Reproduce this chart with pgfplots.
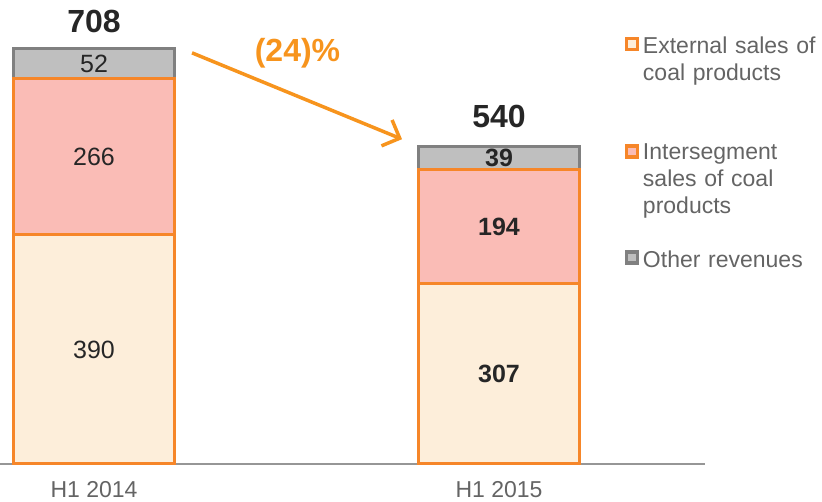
\documentclass[border=0pt]{standalone}
\usepackage{pgfplots}
\pgfplotsset{compat=1.18}
\usepackage{pgfplotstable}
\usepackage{fontspec}
\setmainfont{Liberation Sans}
\usetikzlibrary{arrows.meta}
\definecolor{barorange}{RGB}{246,134,41}
\definecolor{arroworange}{RGB}{247,148,29}
\definecolor{extfill}{RGB}{253,238,218}
\definecolor{interfill}{RGB}{250,188,182}
\definecolor{otherfill}{RGB}{191,191,191}
\definecolor{otherdraw}{RGB}{128,128,128}
\definecolor{darktext}{RGB}{38,38,38}
\definecolor{labelgray}{RGB}{100,100,100}
\definecolor{axisgray}{RGB}{150,150,150}
\pgfplotstableread{
x ext inter other
0 390 266 52
1 307 194 39
}\datatable
\tikzset{seglab/.style={font=\fontsize{25}{28}\selectfont, text=darktext},
  seglabb/.style={font=\fontsize{25}{28}\selectfont\bfseries, text=darktext},
  totlab/.style={font=\fontsize{32}{36}\selectfont\bfseries, text=darktext}}
\begin{document}
\begin{tikzpicture}
\useasboundingbox (0pt,-38pt) rectangle (822pt,464pt);
\begin{axis}[
  scale only axis, width=705pt, height=464pt,
  xmin=-0.2321, xmax=1.5086, ymin=0, ymax=790,
  enlargelimits=false,
  ybar stacked, bar width=161pt,
  axis x line*=bottom, axis y line=none,
  x axis line style={draw=axisgray, line width=1.5pt, -},
  xtick={0,1}, xticklabels={H1 2014, H1 2015},
  major tick length=0pt, ytick=\empty,
  xticklabel style={font=\fontsize{23}{26}\selectfont, text=labelgray, anchor=north, inner sep=0pt, yshift=-17pt},
  clip=false,
  legend image code/.code={\draw[#1,/tikz/.cd, line width=3.5pt] (1.75pt,-1.75pt) rectangle (12.75pt,-12.75pt);},
  legend style={at={(axis description cs:0.8865,0.9203)}, anchor=north west, draw=none, fill=none,
    inner sep=0pt, outer sep=0pt, /tikz/row sep=89pt, /tikz/column sep=3.5pt,
    cells={anchor=north west}, nodes={inner sep=0pt, text=labelgray, text width=180pt, align=left},
    font=\fontsize{23}{27}\selectfont},
]
\addplot[fill=extfill, draw=barorange, line width=3pt] table[x=x,y=ext]{\datatable};
\addlegendentry{External sales of\\coal products}
\addplot[fill=interfill, draw=barorange, line width=3pt] table[x=x,y=inter]{\datatable};
\addlegendentry{Intersegment\\sales of coal\\products}
\addplot[fill=otherfill, draw=otherdraw, line width=3pt] table[x=x,y=other]{\datatable};
\addlegendentry{Other revenues}

\coordinate (a1) at (axis cs:0,195);
\coordinate (a2) at (axis cs:0,523);
\coordinate (a3) at (axis cs:0,682);
\coordinate (b1) at (axis cs:1,153.5);
\coordinate (b2) at (axis cs:1,404);
\coordinate (b3) at (axis cs:1,520.5);
\coordinate (ta) at (axis cs:0,754);
\coordinate (tb) at (axis cs:1,592);
\coordinate (pc) at (axis cs:0.5025,686);
\coordinate (ar1) at (axis cs:0.242,700);
\coordinate (ar2) at (axis cs:0.7605,553);
\end{axis}
\node[seglab] at (a1) {390};
\node[seglab] at (a2) {266};
\node[seglab] at (a3) {52};
\node[seglabb] at (b1) {307};
\node[seglabb] at (b2) {194};
\node[seglabb] at (b3) {39};
\node[totlab] at (ta) {708};
\node[totlab] at (tb) {540};
\node[font=\fontsize{32}{36}\selectfont\bfseries, text=arroworange, anchor=base] at (pc) {(24)\%};
\draw[arroworange, line width=3.5pt, -{Straight Barb[length=14pt,width=28pt]}] (ar1) -- (ar2);
\end{tikzpicture}
\end{document}
